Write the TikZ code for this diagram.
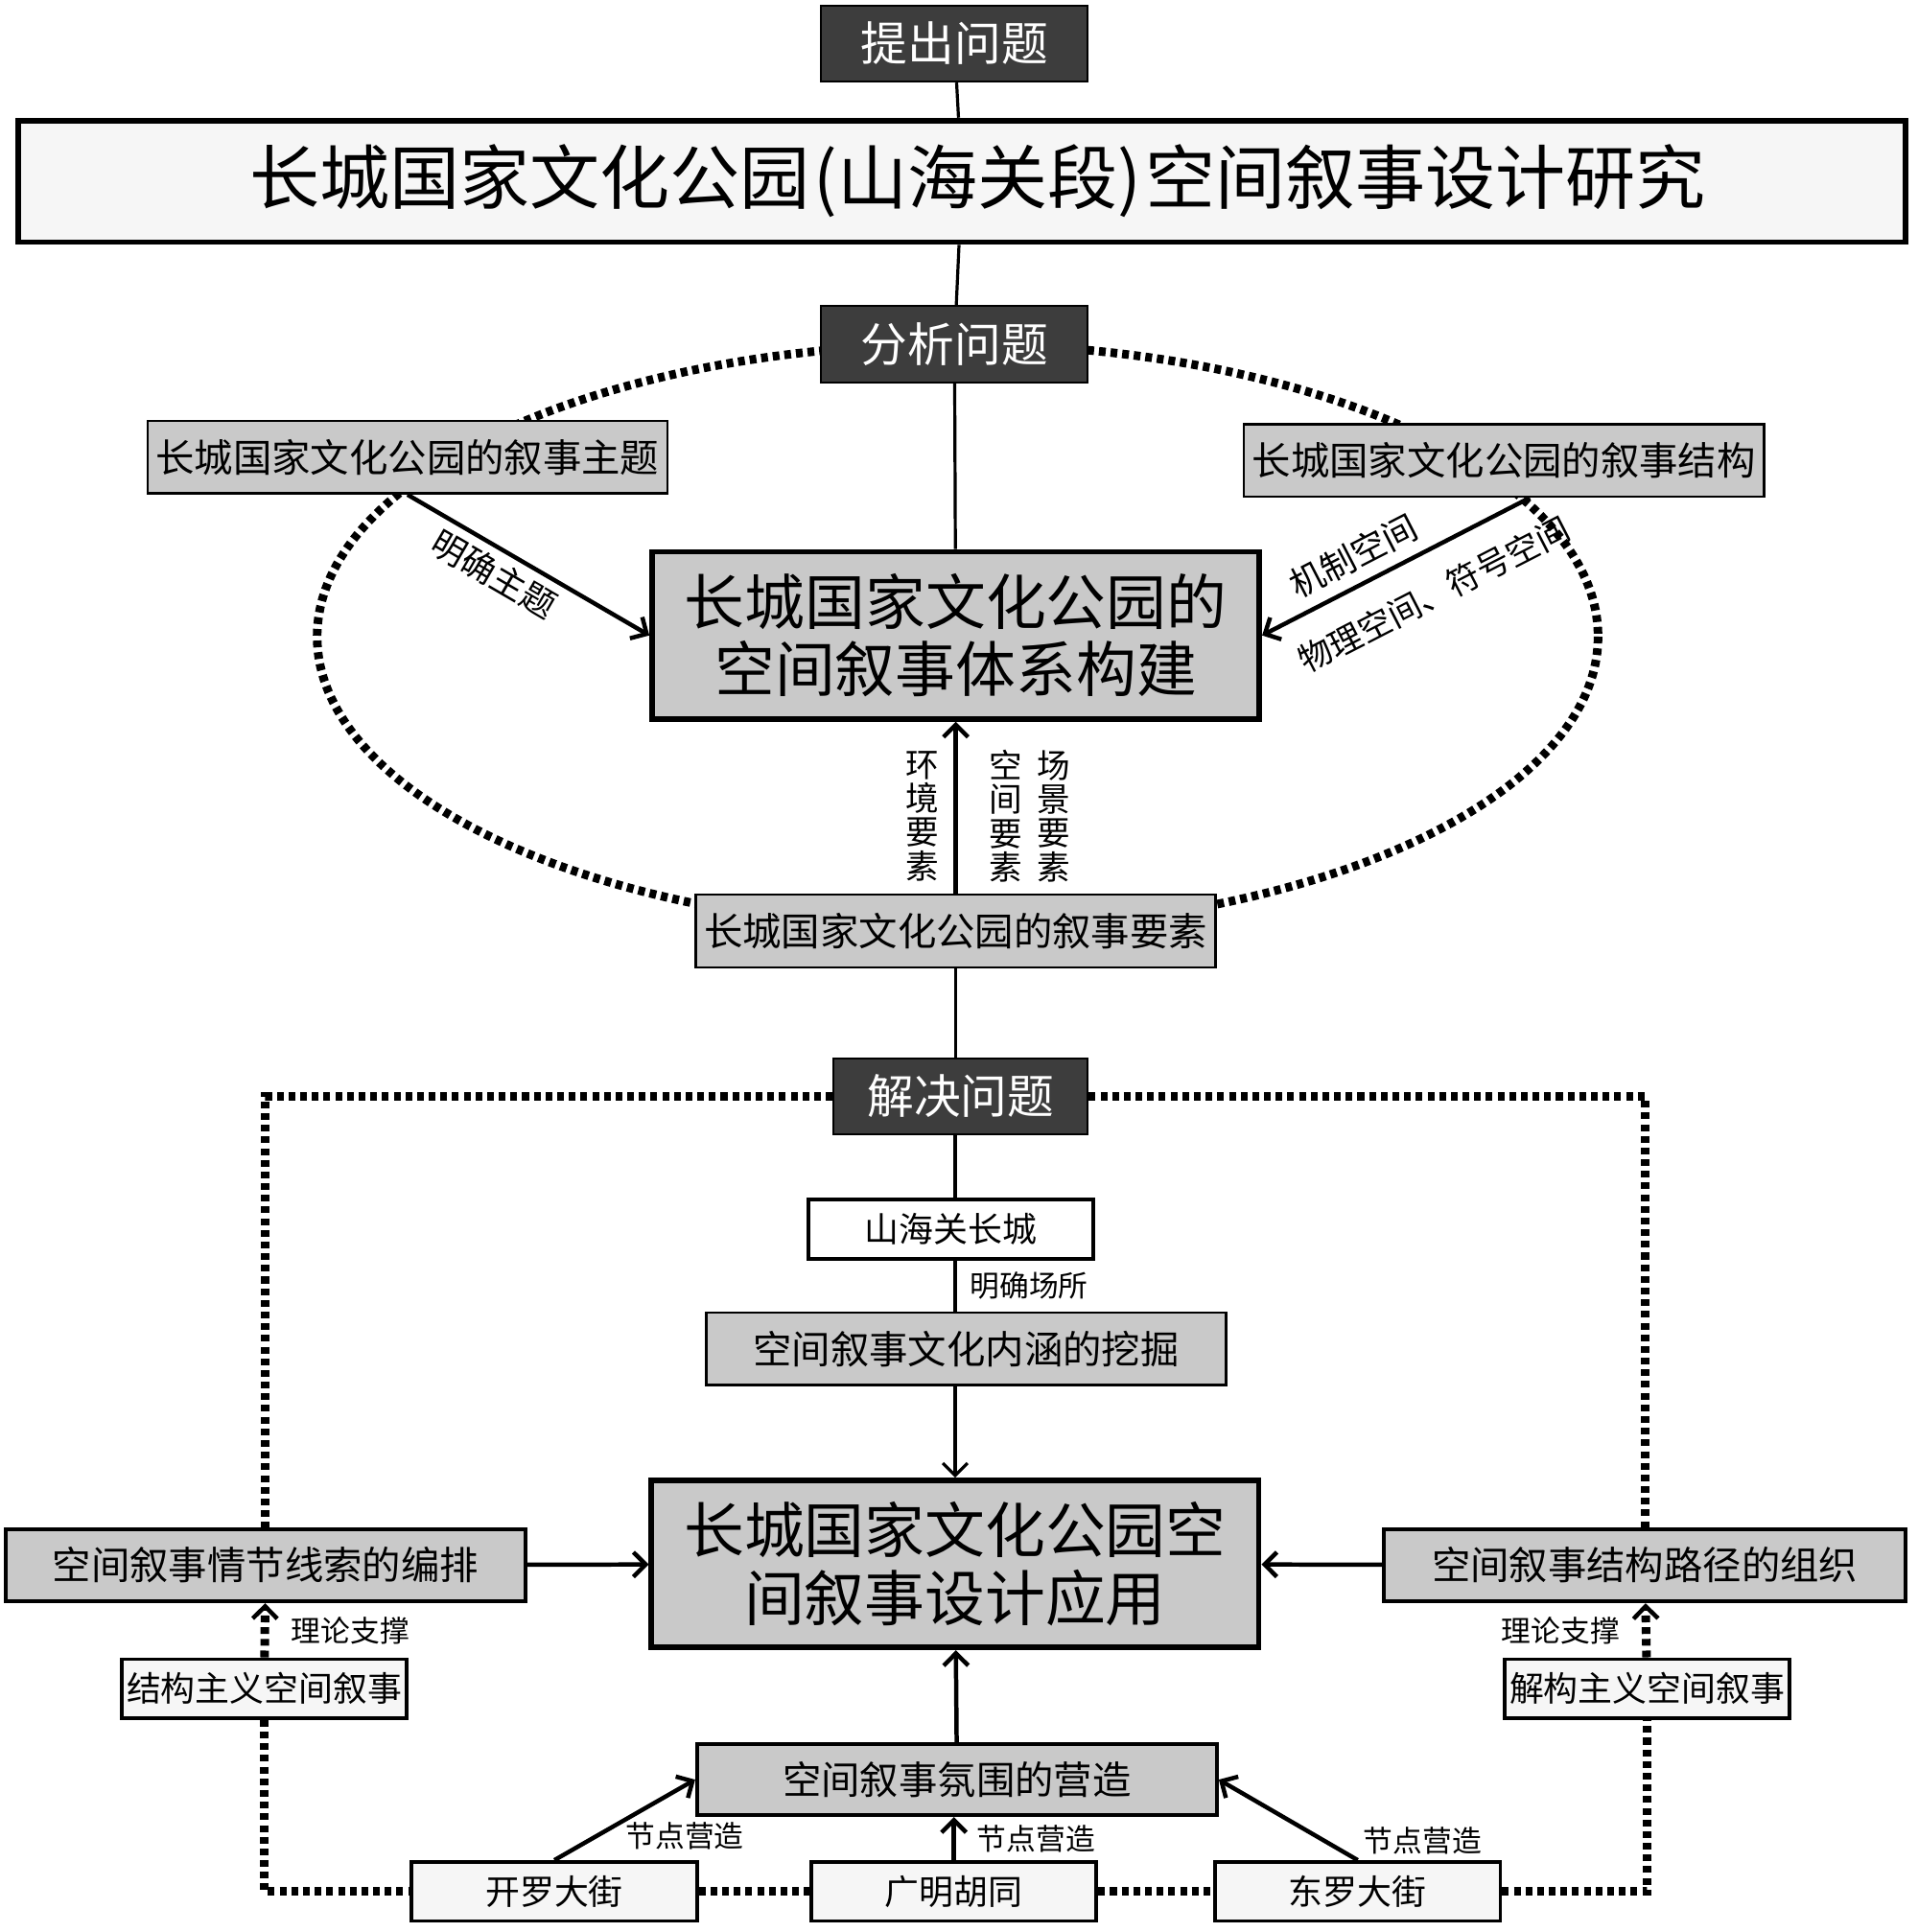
\documentclass[tikz,border=0pt]{standalone}
\usepackage{fontspec}
\setmainfont{Noto Sans CJK SC}
\usepackage{tikz}
\usetikzlibrary{arrows.meta}

\definecolor{boxgray}{gray}{0.79}
\definecolor{darkfill}{gray}{0.24}
\definecolor{paper}{gray}{0.965}
\newcommand{\fs}[2]{\fontsize{#1}{#2}\selectfont}

\begin{document}
\begin{tikzpicture}[x=1pt, y=-1pt, >={Straight Barb[length=10pt,width=20pt]},
	stage/.style={draw=black, line width=1.5pt, fill=darkfill, text=white, minimum width=217pt, minimum height=62pt, inner sep=0pt, font=\fs{38}{44}},
	topic/.style={draw, line width=2pt, fill=boxgray, minimum width=423pt, minimum height=59pt, inner sep=0pt, font=\fs{31.5}{36}},
	core/.style={draw, line width=4.5pt, fill=boxgray, minimum width=494pt, minimum height=136pt, inner sep=0pt, align=center, font=\fs{49}{55}},
	site/.style={draw, line width=3pt, fill=paper, minimum width=232pt, minimum height=48pt, inner sep=0pt, font=\fs{28}{32}},
	lbl/.style={inner sep=0pt, font=\fs{24}{28}},
	vlbl/.style={inner sep=0pt, align=center, font=\fs{27}{27.5}},
	link/.style={line width=2.5pt},
	arr/.style={->, line width=3.5pt},
	dotline/.style={line width=7pt, dash pattern=on 5.5pt off 4pt},
	dotarr/.style={dotline, -{Straight Barb[length=10pt,width=20pt,line width=3.5pt]}}]
	\useasboundingbox (0,0) rectangle (1560,1572);

	% Ring round the analysis part
	\draw [dotline] (779,518) ellipse [x radius=521, y radius=238];

	% Nodes {ask, title, analyze, ...}
	\node [stage] (ask)     at (776.5,35.5) {提出问题};
	\node [draw, line width=4.5pt, fill=paper, minimum width=1535pt, minimum height=99pt, inner sep=0pt, font=\fs{57}{62}]
	               (title)   at (782.5,147.5) {\hspace*{26pt}长城国家文化公园\kern3pt(山海关段)\kern3pt空间叙事设计研究};
	\node [stage] (analyze) at (776.5,280) {分析问题};
	\node [topic] (theme)   at (331.5,372) {长城国家文化公园的叙事主题};
	\node [topic] (struct)  at (1223.5,374.5) {长城国家文化公园的叙事结构};
	\node [core]  (system)  at (777.5,517) {长城国家文化公园的\\空间叙事体系构建};
	\node [topic] (element) at (777.5,757.5) {长城国家文化公园的叙事要素};

	\node [stage, minimum width=207pt] (solve) at (781.5,892) {解决问题};
	\node [site, fill=white] (shg)   at (773.5,1000) {山海关长城};
	\node [topic] (culture) at (786,1097.5) {空间叙事文化内涵的挖掘};
	\node [core]  (apply)   at (777,1272.5) {长城国家文化公园空\\间叙事设计应用};
	\node [topic, line width=3pt] (plot)  at (216,1273.5) {空间叙事情节线索的编排};
	\node [topic, line width=3pt, minimum width=424pt] (route) at (1338,1273.5) {空间叙事结构路径的组织};
	\node [site]  (structuralism) at (215,1374) {结构主义空间叙事};
	\node [site]  (destruct) at (1340,1374) {解构主义空间叙事};
	\node [topic, line width=3pt, minimum height=58pt] (atmos) at (778.5,1448) {空间叙事氛围的营造};
	\node [site]  (kailuo)    at (451,1539) {开罗大街};
	\node [site]  (guangming) at (776,1539) {广明胡同};
	\node [site]  (dongluo)   at (1104.5,1539) {东罗大街};

	% Paths
	\path [link] (ask) edge (title);
	\path [link] (title) edge (analyze);
	\path [link] (analyze) edge (system);
	\path [arr]  (theme.south) edge node [lbl, font=\fs{28}{32}, sloped, below=6pt, pos=0.41] {明确主题} (system.west);
	\path [<-, line width=3.5pt] (system.east) edge
	             node [lbl, font=\fs{28}{32}, sloped, pos=0.39, above=9pt] {机制空间}
	             node [lbl, font=\fs{27}{32}, sloped, pos=0.57, below=20pt] {物理空间、符号空间} ([xshift=21pt]struct.south);
	\path [arr]  (element) edge
	             node [vlbl, pos=0.45, xshift=-27pt] {环\\境\\要\\素}
	             node [vlbl, pos=0.45, xshift=41pt] {空\\间\\要\\素}
	             node [vlbl, pos=0.45, xshift=80pt] {场\\景\\要\\素} (system);
	\path [link] (element) edge (element.south |- solve.north);

	\path [link] (apply.north |- solve.south) edge (apply.north |- shg.north);
	\path [link] (apply.north |- shg.south) edge node [lbl, right=11pt] {明确场所} (apply.north |- culture.north);
	\path [->, line width=2.5pt] (apply.north |- culture.south) edge (apply.north);
	\path [arr]  (plot) edge (apply);
	\path [arr]  (route) edge (apply);
	\path [arr]  (atmos) edge (apply);
	\path [arr]  (kailuo.north) edge node [lbl, pos=0.3, right=22pt] {节点营造} (atmos.west);
	\path [arr]  (guangming.north) edge node [lbl, right=17pt] {节点营造} (guangming.north |- atmos.south);
	\path [arr]  (dongluo.north) edge node [lbl, pos=0, above right=3pt] {节点营造} (atmos.east);

	% Dotted frame round the solving part
	\draw [dotline] (solve.west) -| (plot.north);
	\draw [dotline] (solve.east) -| (route.north);
	\draw [dotline] (structuralism.south) |- (kailuo.west);
	\draw [dotline] (kailuo) -- (guangming);
	\draw [dotline] (guangming) -- (dongluo);
	\draw [dotline] (dongluo.east) -| (destruct.south);
	\draw [dotarr] (structuralism) -- node [lbl, right=18pt] {理论支撑} (plot);
	\draw [dotarr] (destruct) -- node [lbl, left=18pt] {理论支撑} (route);
\end{tikzpicture}
\end{document}
